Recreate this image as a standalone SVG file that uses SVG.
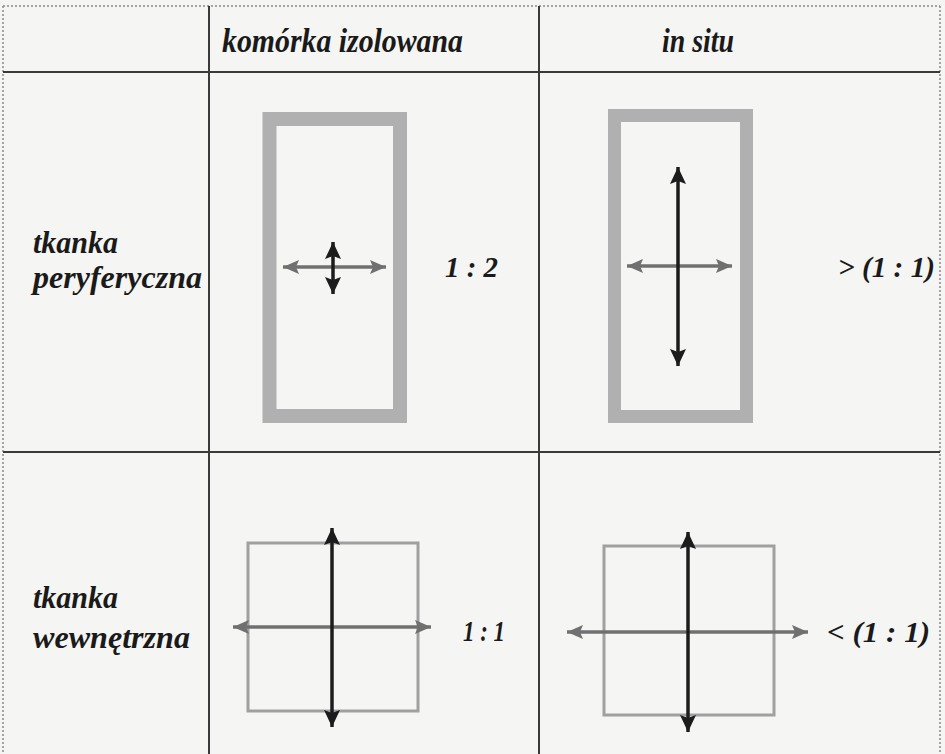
<svg xmlns="http://www.w3.org/2000/svg" width="945" height="754" viewBox="0 0 945 754">
<style>
.grid{stroke:#3a3a3a;stroke-width:2;fill:none}
.dash{stroke:#8a8a8a;stroke-width:1.5;stroke-dasharray:2 2;fill:none}
text{font-family:'Liberation Serif','Times New Roman','DejaVu Serif',serif;font-style:italic;font-weight:bold;fill:#1a1a1a}
.hdr{font-size:33px}
.lbl{font-size:31px}
.val{font-size:29px}
.thick{fill:none;stroke:#b0b0b0}
.thin{fill:none;stroke:#a0a0a0;stroke-width:3}
.ga{stroke:#707070;stroke-width:3.5;marker-start:url(#hg);marker-end:url(#hg)}
.ba{stroke:#1c1c1c;stroke-width:3.5;marker-start:url(#hb);marker-end:url(#hb)}
</style>
<defs>
<marker id="hg" markerUnits="userSpaceOnUse" markerWidth="18" markerHeight="16" refX="16" refY="8" orient="auto-start-reverse" viewBox="0 0 18 16">
<path d="M0,1 L16,8 L0,15 L3,8 Z" fill="#707070"/>
</marker>
<marker id="hb" markerUnits="userSpaceOnUse" markerWidth="18" markerHeight="18" refX="17" refY="9" orient="auto-start-reverse" viewBox="0 0 18 18">
<path d="M0,1 L17,9 L0,17 L3,9 Z" fill="#1c1c1c"/>
</marker>
</defs>
<rect width="945" height="754" fill="#f5f5f3"/>
<g id="table">
<line class="dash" x1="3" y1="6" x2="940" y2="6"/>
<line class="dash" x1="3" y1="6" x2="3" y2="754"/>
<line class="dash" x1="940" y1="6" x2="940" y2="754"/>
<line class="grid" x1="3" y1="72" x2="940" y2="72"/>
<line class="grid" x1="3" y1="452" x2="940" y2="452"/>
<line class="grid" x1="209" y1="6" x2="209" y2="754"/>
<line class="grid" x1="539" y1="6" x2="539" y2="754"/>
</g>
<g id="headers">
<text class="hdr" x="222" y="52" textLength="241" lengthAdjust="spacingAndGlyphs">komórka  izolowana</text>
<text class="hdr" x="662" y="52" textLength="72" lengthAdjust="spacingAndGlyphs">in situ</text>
</g>
<g id="row-peryferyczna">
<text class="lbl" x="33" y="253" textLength="85" lengthAdjust="spacingAndGlyphs">tkanka</text>
<text class="lbl" x="33" y="288" textLength="169" lengthAdjust="spacingAndGlyphs">peryferyczna</text>
</g>
<g id="row-wewnetrzna">
<text class="lbl" x="33" y="608" textLength="85" lengthAdjust="spacingAndGlyphs">tkanka</text>
<text class="lbl" x="33" y="648" textLength="157" lengthAdjust="spacingAndGlyphs">wewnętrzna</text>
</g>
<g id="cell-iso-peri">
<rect class="thick" x="269.5" y="119" width="130.5" height="297" stroke-width="14"/>
<text class="val" x="445" y="277" textLength="53" lengthAdjust="spacingAndGlyphs">1 : 2</text>
</g>
<g id="cell-situ-peri">
<rect class="thick" x="614.5" y="115.5" width="132" height="301" stroke-width="13"/>
<text class="val" x="838" y="277" textLength="97" lengthAdjust="spacingAndGlyphs">&gt; (1 : 1)</text>
</g>
<g id="cell-iso-wew">
<rect class="thin" x="248" y="543" width="170" height="168"/>
<text class="val" x="463" y="641" textLength="42" lengthAdjust="spacingAndGlyphs">1 : 1</text>
</g>
<g id="cell-situ-wew">
<rect class="thin" x="604" y="546" width="170" height="169"/>
<text class="val" x="827" y="642" textLength="103" lengthAdjust="spacingAndGlyphs">&lt; (1 : 1)</text>
</g>
<g id="connectors">
<line class="ga" x1="283" y1="267" x2="386" y2="267"/>
<line class="ba" x1="333" y1="242" x2="333" y2="294"/>
<line class="ga" x1="627" y1="266" x2="732" y2="266"/>
<line class="ba" x1="678" y1="167" x2="678" y2="366"/>
<line class="ga" x1="233" y1="627" x2="431" y2="627"/>
<line class="ba" x1="332" y1="528" x2="332" y2="727"/>
<line class="ga" x1="567" y1="632" x2="808" y2="632"/>
<line class="ba" x1="688" y1="532" x2="688" y2="732"/>
</g>
</svg>
